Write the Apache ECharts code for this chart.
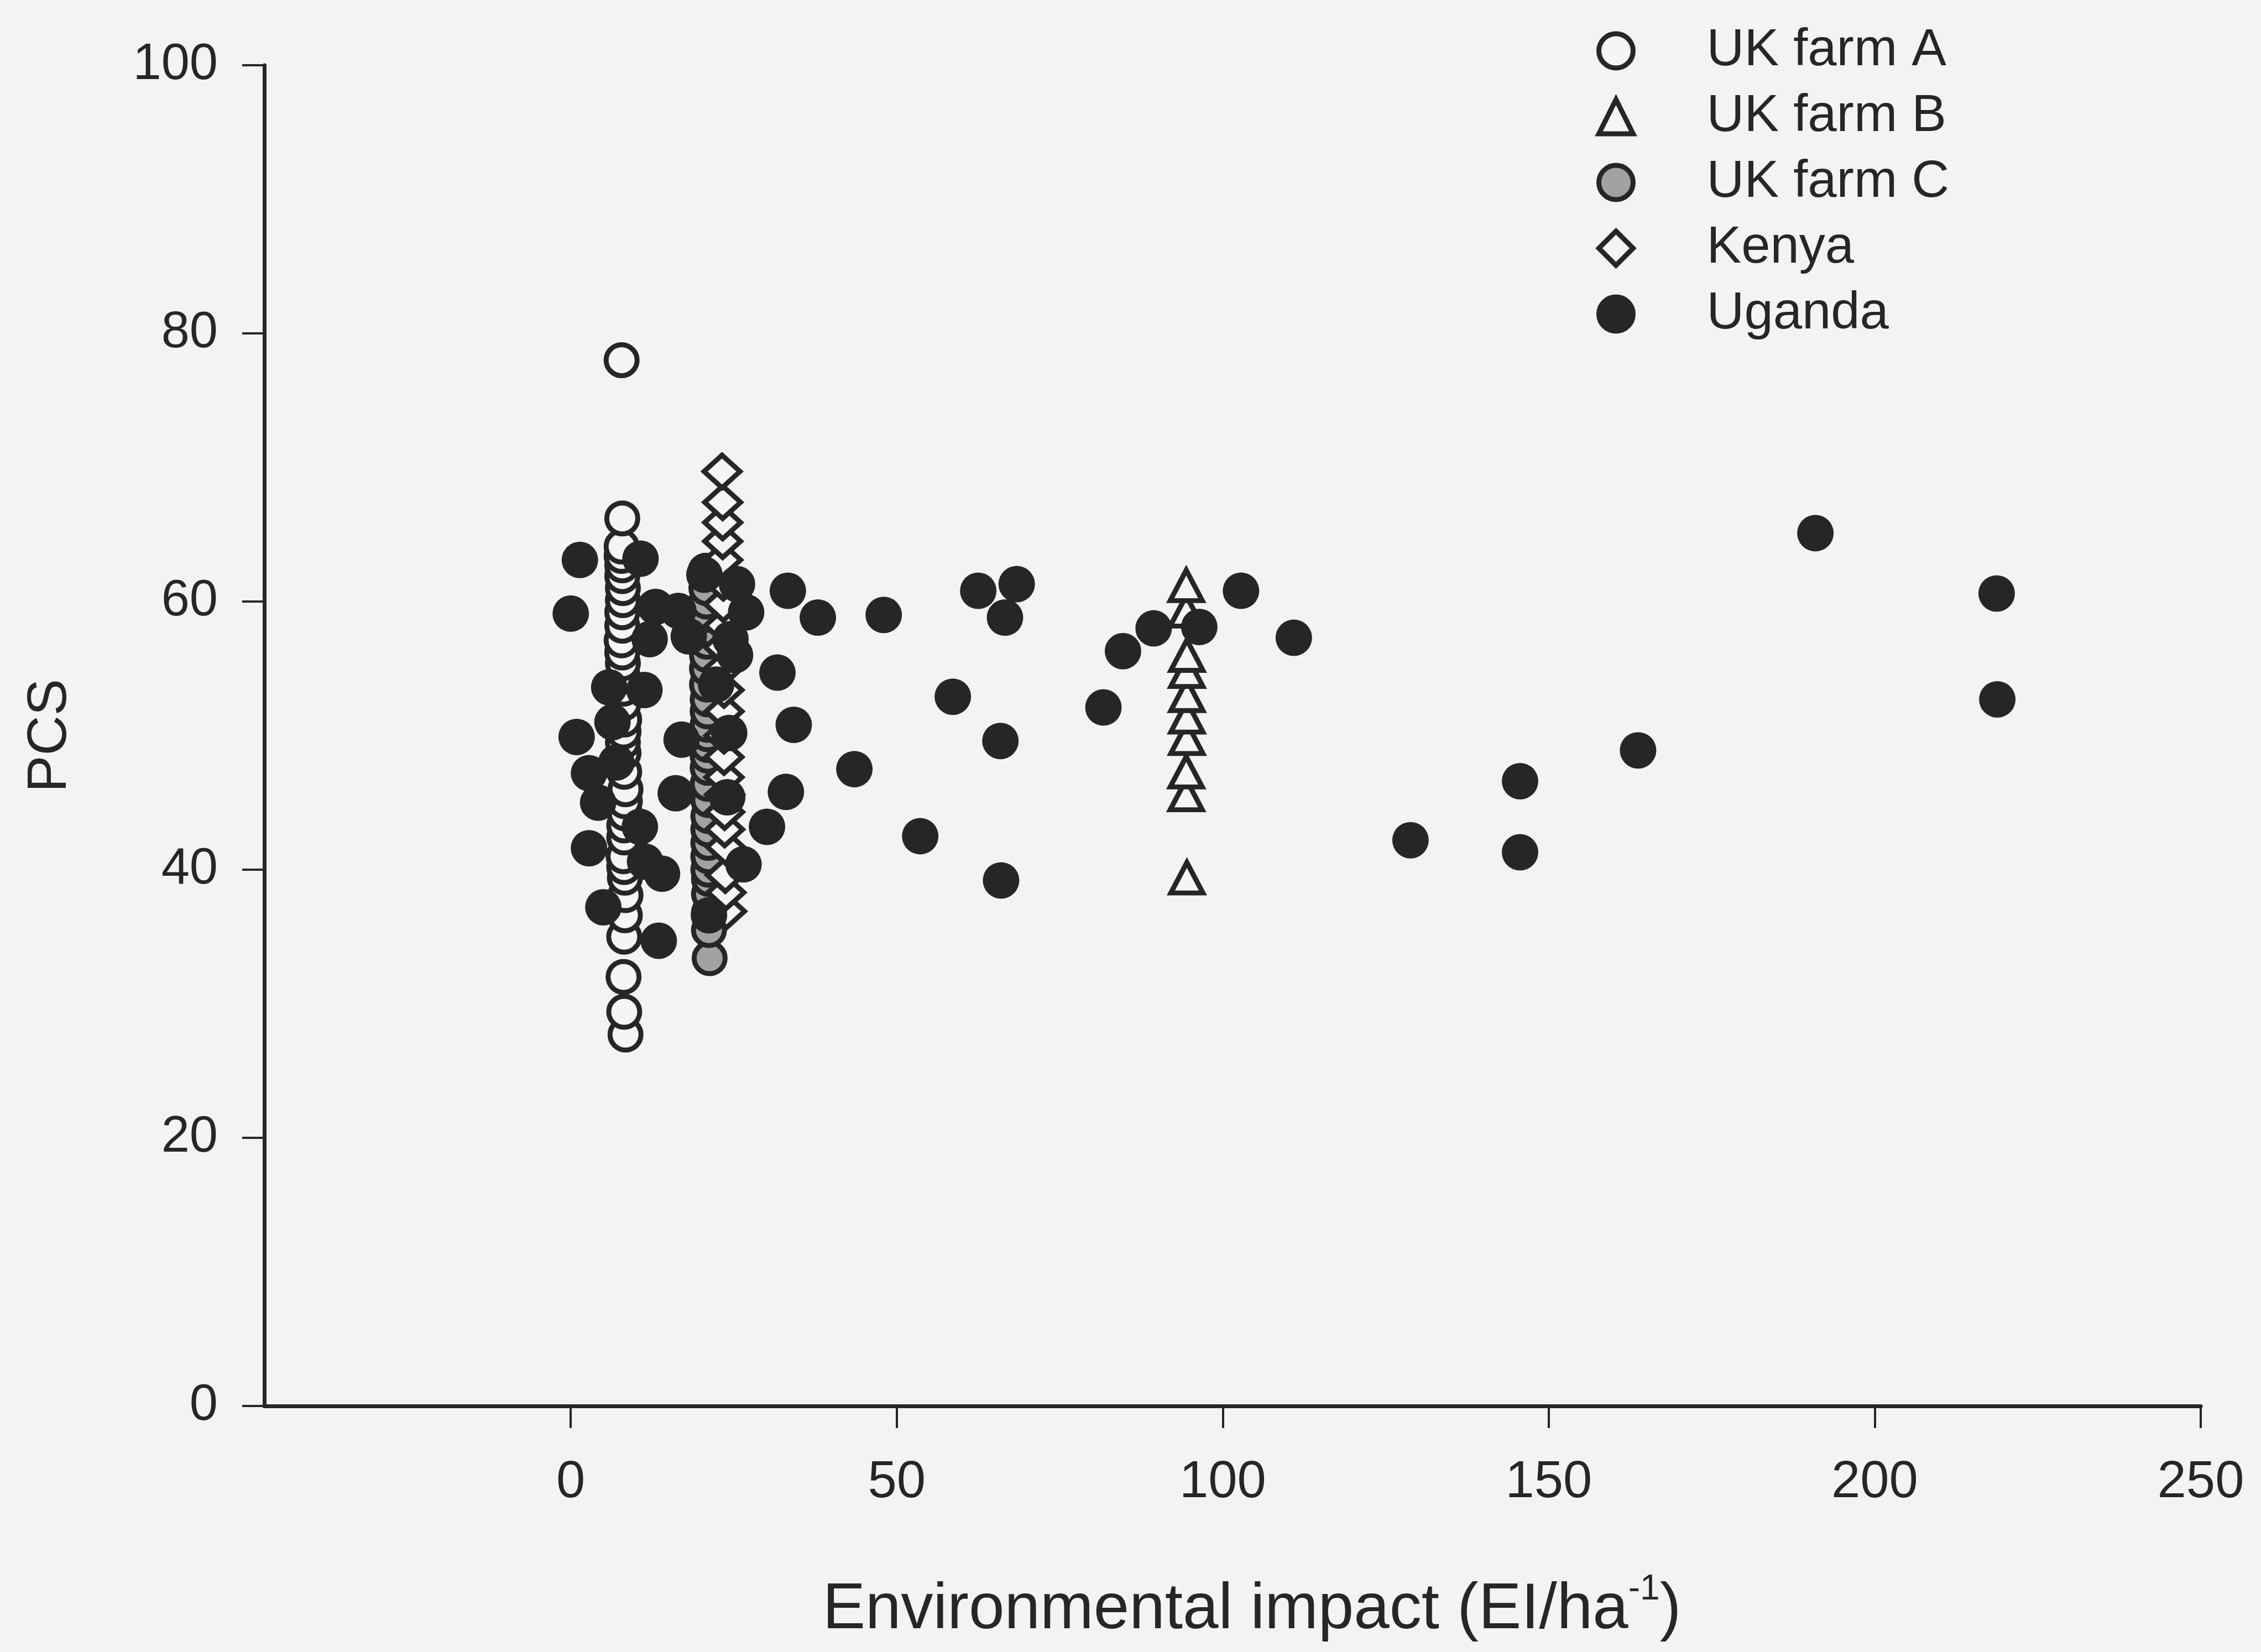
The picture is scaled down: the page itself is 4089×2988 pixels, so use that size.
<!DOCTYPE html>
<html>
<head>
<meta charset="utf-8">
<title>PCS vs environmental impact</title>
<script src="https://cdn.jsdelivr.net/npm/echarts@6/dist/echarts.min.js"></script>
<style>
  html, body { margin: 0; padding: 0; background: #f3f3f2; }
  #chart { width: 4089px; height: 2988px; }
</style>
</head>
<body>
<div id="chart"></div>
<script>
// [environmental impact (EI/ha), PCS] per farm / country
const ukFarmA = [
  [8.4, 27.7], [8.2, 29.4], [8.1, 32.0], [8.2, 35.0], [8.3, 36.6], [8.4, 38.1],
  [8.3, 39.4], [8.2, 40.2], [8.1, 41.0], [8.2, 42.4], [8.2, 43.3], [8.3, 44.2],
  [8.3, 45.1], [8.4, 46.0], [8.2, 47.3], [8.1, 48.7], [8.0, 49.5], [8.1, 50.3],
  [8.2, 51.2], [8.1, 52.4], [8.1, 53.5], [8.0, 54.4], [8.0, 55.4], [7.9, 56.2],
  [7.8, 57.1], [7.9, 58.2], [7.9, 59.2], [8.0, 60.1], [8.0, 61.0], [7.9, 61.9],
  [7.9, 62.7], [7.8, 63.4], [7.8, 64.1], [7.9, 66.2], [7.8, 78.0]
];
const ukFarmB = [
  [94.5, 39.4], [94.4, 45.6], [94.4, 47.3], [94.5, 49.8], [94.5, 51.4],
  [94.5, 53.0], [94.5, 54.8], [94.5, 56.0], [94.4, 59.3], [94.4, 61.2]
];
const ukFarmC = [
  [21.3, 33.4], [21.2, 35.5], [21.2, 36.8], [21.2, 38.2], [21.2, 39.3], [21.1, 40.0],
  [21.1, 41.0], [21.1, 42.0], [21.1, 43.0], [21.1, 44.0], [21.1, 45.2], [21.0, 46.4],
  [21.0, 47.6], [21.0, 48.5], [21.0, 49.3], [21.0, 50.1], [21.0, 50.8], [21.0, 51.8],
  [21.0, 52.7], [20.9, 53.8], [20.9, 55.0], [20.9, 56.0], [20.9, 57.0], [20.8, 58.0],
  [20.8, 59.0], [20.8, 60.0], [20.8, 61.0], [20.7, 62.3]
];
const kenya = [
  [23.9, 36.9], [23.8, 38.3], [23.7, 39.6], [23.7, 41.7], [23.6, 43.0], [23.6, 44.3],
  [23.6, 45.6], [23.5, 46.9], [23.5, 48.4], [23.5, 50.0], [23.5, 51.8], [23.5, 53.4],
  [23.4, 55.0], [23.4, 56.6], [23.4, 58.2], [23.4, 59.8], [23.4, 61.4], [23.3, 63.1],
  [23.3, 64.5], [23.3, 65.9], [23.3, 67.4], [23.2, 69.7]
];
const uganda = [
  [1.4, 63.1], [10.7, 63.2], [0.0, 59.1], [12.1, 57.2], [18.1, 57.4], [13.0, 59.6],
  [16.5, 59.3], [20.5, 62.0], [25.5, 61.3], [26.9, 59.2], [25.2, 56.0], [22.3, 53.8],
  [24.5, 57.2], [24.3, 50.2], [24.0, 45.4],
  [5.9, 53.6], [11.3, 53.4], [6.4, 51.0], [0.9, 49.9], [2.8, 47.2], [7.0, 48.0],
  [4.2, 45.0], [2.8, 41.6], [10.6, 43.2], [11.4, 40.6], [14.0, 39.7], [5.0, 37.2],
  [13.5, 34.7], [17.0, 49.7], [16.1, 45.7], [21.2, 36.6], [31.7, 54.7], [34.2, 50.8],
  [33.0, 45.8], [30.1, 43.2], [26.5, 40.4], [33.3, 60.8], [37.9, 58.8], [48.0, 59.0],
  [62.5, 60.8], [68.4, 61.3], [66.6, 58.8], [58.6, 52.9], [43.5, 47.5], [53.6, 42.5],
  [65.9, 49.6], [66.0, 39.2], [81.7, 52.1], [84.7, 56.3], [89.4, 58.0], [96.4, 58.1],
  [102.8, 60.8], [110.9, 57.3], [128.8, 42.2], [145.6, 46.6], [145.6, 41.3],
  [163.7, 48.9], [190.9, 65.1], [218.7, 60.6], [218.8, 52.7]
];

const seriesNames = ['UK farm A', 'UK farm B', 'UK farm C', 'Kenya', 'Uganda'];
const xTicks = [0, 50, 100, 150, 200, 250];

const ink = '#262626';
const paper = '#f5f5f4';
const font = 'Liberation Sans';

const chart = echarts.init(document.getElementById('chart'), null, { renderer: 'canvas' });

chart.setOption({
  backgroundColor: '#f3f3f2',
  animation: false,
  textStyle: { fontFamily: font, color: ink },
  grid: { left: 478, right: 109, top: 118, bottom: 440, containLabel: false },
  legend: {
    orient: 'vertical',
    left: 2882,
    top: 40,
    itemWidth: 62,
    itemHeight: 62,
    itemGap: 25,
    itemStyle: { borderWidth: 9 },
    textStyle: { fontSize: 94, lineHeight: 94, color: ink, fontFamily: font, padding: [0, 0, 0, 128] },
    data: seriesNames
  },
  xAxis: {
    type: 'value',
    min: -47,
    max: 250,
    name: 'Environmental impact (EI/ha{sup|-1})',
    nameLocation: 'middle',
    nameGap: 300,
    nameTextStyle: {
      fontSize: 116, lineHeight: 140, color: ink, fontFamily: font, padding: [0, 0, 0, 70],
      rich: { sup: { fontSize: 64, lineHeight: 70, verticalAlign: 'top', color: ink, fontFamily: font } }
    },
    axisLine: { show: true, onZero: false, lineStyle: { color: ink, width: 7 } },
    axisTick: { show: true, length: 40, lineStyle: { color: ink, width: 4 }, customValues: xTicks },
    axisLabel: { fontSize: 94, margin: 92, color: ink, fontFamily: font, customValues: xTicks },
    splitLine: { show: false }
  },
  yAxis: {
    type: 'value',
    min: 0,
    max: 100,
    interval: 20,
    name: 'PCS',
    nameLocation: 'middle',
    nameGap: 337,
    nameRotate: 90,
    nameTextStyle: { fontSize: 100, color: ink, fontFamily: font },
    axisLine: { show: true, onZero: false, lineStyle: { color: ink, width: 7 } },
    axisTick: { show: true, length: 40, lineStyle: { color: ink, width: 4 } },
    axisLabel: { fontSize: 92, margin: 84, color: ink, fontFamily: font },
    splitLine: { show: false }
  },
  series: [
    {
      name: 'UK farm A', type: 'scatter', data: ukFarmA,
      symbol: 'circle', symbolSize: 56,
      itemStyle: { color: paper, borderColor: ink, borderWidth: 9, opacity: 1 }
    },
    {
      name: 'UK farm B', type: 'scatter', data: ukFarmB,
      symbol: 'triangle', symbolSize: [58, 55],
      itemStyle: { color: paper, borderColor: ink, borderWidth: 9, opacity: 1 }
    },
    {
      name: 'UK farm C', type: 'scatter', data: ukFarmC,
      symbol: 'circle', symbolSize: 56,
      itemStyle: { color: '#a2a2a2', borderColor: ink, borderWidth: 9, opacity: 1 }
    },
    {
      name: 'Kenya', type: 'scatter', data: kenya,
      symbol: 'diamond', symbolSize: [65, 59],
      itemStyle: { color: paper, borderColor: ink, borderWidth: 9, opacity: 1 }
    },
    {
      name: 'Uganda', type: 'scatter', data: uganda,
      symbol: 'circle', symbolSize: 66,
      itemStyle: { color: ink, borderColor: ink, borderWidth: 0, opacity: 1 }
    }
  ]
});
</script>
</body>
</html>
